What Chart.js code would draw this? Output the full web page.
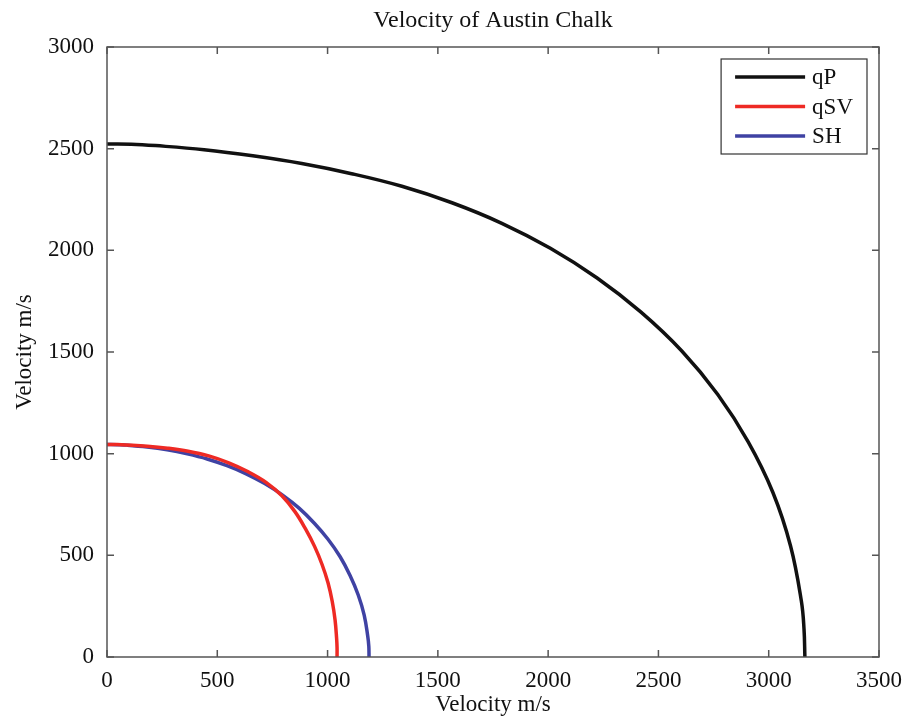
<!DOCTYPE html>
<html>
<head>
<meta charset="utf-8">
<script src="https://cdn.jsdelivr.net/npm/chart.js@4"></script>
<style>
  html, body { margin: 0; padding: 0; background: #ffffff; }
  #wrap { width: 902px; height: 719px; }
</style>
</head>
<body>
<div id="wrap"><canvas id="c" width="902" height="719"></canvas></div>
<script>
// Group-velocity surfaces (m/s), first quadrant
const seriesNames  = ['qP', 'qSV', 'SH'];
const seriesColors = ['#111111', '#ee2a24', '#3f42a3'];

const qpX  = [0, 110, 220, 440, 661, 883, 1109, 1337, 1564, 1790, 2010, 2222, 2421, 2606, 2769, 2907, 3019, 3099, 3148, 3160, 3164];
const qpY  = [2523, 2522, 2515, 2495, 2465, 2427, 2377, 2315, 2234, 2133, 2010, 1864, 1696, 1505, 1291, 1058, 809, 546, 275, 138, 0];

const qsvX = [0, 46, 91, 183, 275, 368, 461, 552, 638, 721, 793, 852, 900, 941, 975, 1002, 1021, 1034, 1041, 1043, 1043];
const qsvY = [1045, 1045, 1043, 1037, 1027, 1012, 989, 955, 912, 859, 793, 715, 630, 544, 455, 365, 274, 182, 91, 46, 0];

const shX  = [0, 46, 91, 182, 273, 364, 454, 544, 631, 715, 796, 872, 940, 1002, 1057, 1102, 1139, 1166, 1182, 1187, 1188];
const shY  = [1045, 1044, 1042, 1033, 1019, 999, 974, 941, 901, 853, 796, 731, 658, 579, 493, 401, 305, 206, 103, 52, 0];

const xTickValues = [0, 500, 1000, 1500, 2000, 2500, 3000, 3500];
const yTickValues = [0, 500, 1000, 1500, 2000, 2500, 3000];

const chartTitle = 'Velocity of Austin Chalk';
const xTitle = 'Velocity m/s';
const yTitle = 'Velocity m/s';

const serif = "'Liberation Serif', 'Times New Roman', serif";
const toPoints = (xs, ys) => xs.map((v, i) => ({ x: v, y: ys[i] }));
const seriesData = [toPoints(qpX, qpY), toPoints(qsvX, qsvY), toPoints(shX, shY)];

// Boxed axes with inward tick marks, plus a framed legend in the upper right
const framePlugin = {
  id: 'boxFrame',
  afterDatasetsDraw(chart) {
    const { ctx, chartArea: a, scales: { x, y } } = chart;
    ctx.save();
    ctx.strokeStyle = '#555555';
    ctx.lineWidth = 1.5;
    ctx.strokeRect(a.left, a.top, a.right - a.left, a.bottom - a.top);
    const tl = 7;
    ctx.beginPath();
    xTickValues.forEach(v => {
      const px = x.getPixelForValue(v);
      ctx.moveTo(px, a.bottom); ctx.lineTo(px, a.bottom - tl);
      ctx.moveTo(px, a.top);    ctx.lineTo(px, a.top + tl);
    });
    yTickValues.forEach(v => {
      const py = y.getPixelForValue(v);
      ctx.moveTo(a.left, py);  ctx.lineTo(a.left + tl, py);
      ctx.moveTo(a.right, py); ctx.lineTo(a.right - tl, py);
    });
    ctx.stroke();

    // legend
    ctx.font = '23px ' + serif;
    const textW = Math.max(...chart.data.datasets.map(d => ctx.measureText(d.label).width));
    const padL = 14, lineLen = 70, gap = 7, padR = 14, rowH = 29.5, topPad = 18;
    const boxW = padL + lineLen + gap + textW + padR;
    const boxH = 95;
    const bx = a.right - 12 - boxW;
    const by = a.top + 12;
    ctx.fillStyle = '#ffffff';
    ctx.fillRect(bx, by, boxW, boxH);
    ctx.strokeStyle = '#333333';
    ctx.lineWidth = 1.2;
    ctx.strokeRect(bx, by, boxW, boxH);
    chart.data.datasets.forEach((d, i) => {
      const ry = by + topPad + i * rowH;
      ctx.strokeStyle = d.borderColor;
      ctx.lineWidth = 3.5;
      ctx.beginPath();
      ctx.moveTo(bx + padL, ry);
      ctx.lineTo(bx + padL + lineLen, ry);
      ctx.stroke();
      ctx.fillStyle = '#111111';
      ctx.textBaseline = 'middle';
      ctx.textAlign = 'left';
      ctx.fillText(d.label, bx + padL + lineLen + gap, ry + 1);
    });
    ctx.restore();
  }
};

const plainLabel = v => String(v);

new Chart(document.getElementById('c'), {
  type: 'scatter',
  data: {
    datasets: seriesNames.map((name, i) => ({
      label: name,
      data: seriesData[i],
      showLine: true,
      borderColor: seriesColors[i],
      backgroundColor: seriesColors[i],
      borderWidth: 3.5,
      pointRadius: 0,
      tension: 0.4,
      fill: false
    }))
  },
  options: {
    responsive: false,
    animation: false,
    devicePixelRatio: 1,
    layout: { padding: { left: 0, right: 23, top: 0, bottom: 0 } },
    plugins: {
      legend: { display: false },
      tooltip: { enabled: false },
      title: {
        display: true,
        fullSize: false,
        text: chartTitle,
        color: '#111111',
        font: { family: serif, size: 24, weight: 'normal' },
        padding: { top: 6, bottom: 12.2 }
      }
    },
    scales: {
      x: {
        type: 'linear',
        min: 0, max: 3500,
        afterBuildTicks: s => { s.ticks = xTickValues.map(v => ({ value: v })); },
        afterFit: s => { s.height = 62; s.paddingLeft = 0; s.paddingRight = 0; },
        ticks: {
          color: '#111111',
          font: { family: serif, size: 23 },
          padding: 10,
          maxRotation: 0,
          autoSkip: false,
          callback: plainLabel
        },
        grid: { display: false, drawTicks: false },
        border: { display: false },
        title: {
          display: true,
          text: xTitle,
          color: '#111111',
          font: { family: serif, size: 23 },
          padding: { top: 0, bottom: 0 }
        }
      },
      y: {
        type: 'linear',
        min: 0, max: 3000,
        afterBuildTicks: s => { s.ticks = yTickValues.map(v => ({ value: v })); },
        afterFit: s => { s.width = 107; s.paddingTop = 0; s.paddingBottom = 0; },
        ticks: {
          color: '#111111',
          font: { family: serif, size: 23 },
          padding: 13,
          autoSkip: false,
          callback: plainLabel
        },
        grid: { display: false, drawTicks: false },
        border: { display: false },
        title: {
          display: true,
          text: yTitle,
          color: '#111111',
          font: { family: serif, size: 23 },
          padding: { top: 11, bottom: 0 }
        }
      }
    }
  },
  plugins: [framePlugin]
});
</script>
</body>
</html>
